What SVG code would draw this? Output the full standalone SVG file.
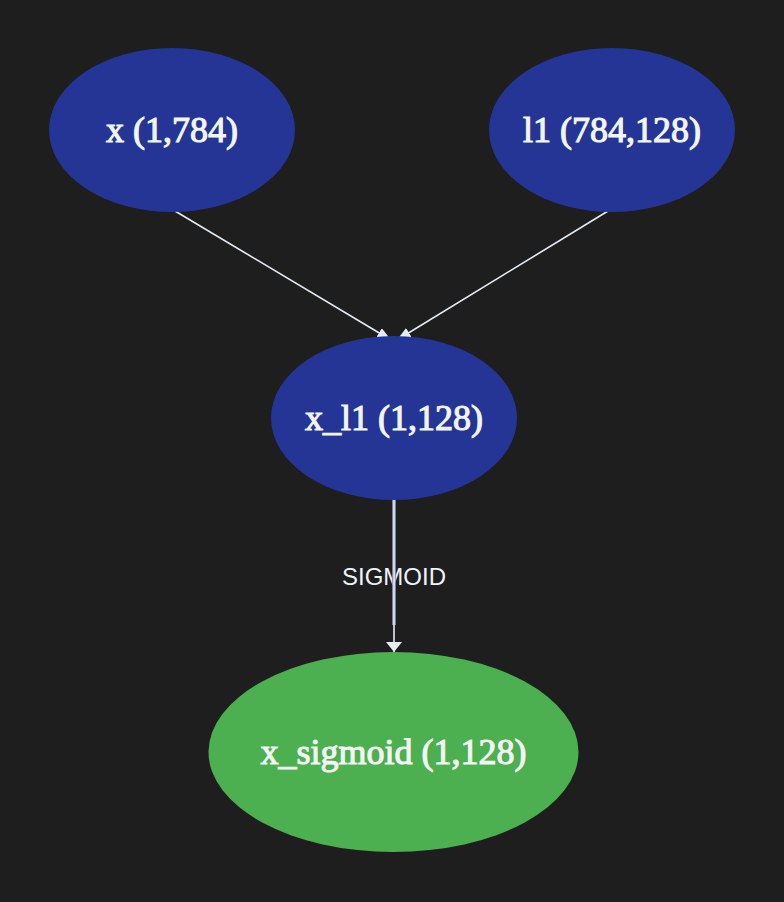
<svg xmlns="http://www.w3.org/2000/svg" width="784" height="902" viewBox="0 0 784 902">
<defs>
<style>
.bg{fill:#1e1e1e}
.blue{fill:#253595}
.green{fill:#4caf50}
.lbl{font-family:"Liberation Serif","Times New Roman",serif;font-size:36px;fill:#f2f5f2;stroke:#f2f5f2;stroke-width:1.1;text-anchor:middle}
.edge{stroke:#e6ecf4;stroke-width:1.6;fill:none}
.elbl{font-family:"Liberation Sans",Arial,sans-serif;font-size:24px;fill:#eef2fa;text-anchor:middle}
</style>
<marker id="arr" viewBox="0 0 10 10" refX="10" refY="5" markerWidth="14" markerHeight="11" markerUnits="userSpaceOnUse" orient="auto" preserveAspectRatio="none">
<path d="M0,0 L10,5 L0,10 z" fill="#e6ecf4"/>
</marker>
<marker id="arr2" viewBox="0 0 10 10" refX="10" refY="5" markerWidth="10" markerHeight="16" markerUnits="userSpaceOnUse" orient="auto" preserveAspectRatio="none">
<path d="M0,0 L10,5 L0,10 z" fill="#e6ecf4"/>
</marker>
</defs>
<rect class="bg" x="0" y="0" width="784" height="902"/>
<g id="edges">
<line class="edge" x1="175" y1="211" x2="391" y2="340" marker-end="url(#arr)"/>
<line class="edge" x1="608" y1="211" x2="397" y2="340" marker-end="url(#arr)"/>
</g>
<g id="node-x">
<ellipse class="blue" cx="172" cy="130" rx="123" ry="82"/>
<text class="lbl" x="172" y="142">x (1,784)</text>
</g>
<g id="node-l1">
<ellipse class="blue" cx="612" cy="130" rx="123" ry="82"/>
<text class="lbl" x="612" y="142">l1 (784,128)</text>
</g>
<g id="node-x_l1">
<ellipse class="blue" cx="394" cy="418" rx="123" ry="82"/>
<text class="lbl" x="394" y="430">x_l1 (1,128)</text>
</g>
<g id="node-x_sigmoid">
<ellipse class="green" cx="393.5" cy="752" rx="185" ry="100"/>
<text class="lbl" x="393.5" y="764">x_sigmoid (1,128)</text>
</g>
<g id="edge-sigmoid">
<text class="elbl" x="394" y="585">SIGMOID</text>
<line x1="394" y1="500" x2="394" y2="625" stroke="#8a94b8" stroke-width="4" opacity="0.85"/>
<line class="edge" x1="394" y1="500" x2="394" y2="652" marker-end="url(#arr2)"/>
</g>
</svg>
